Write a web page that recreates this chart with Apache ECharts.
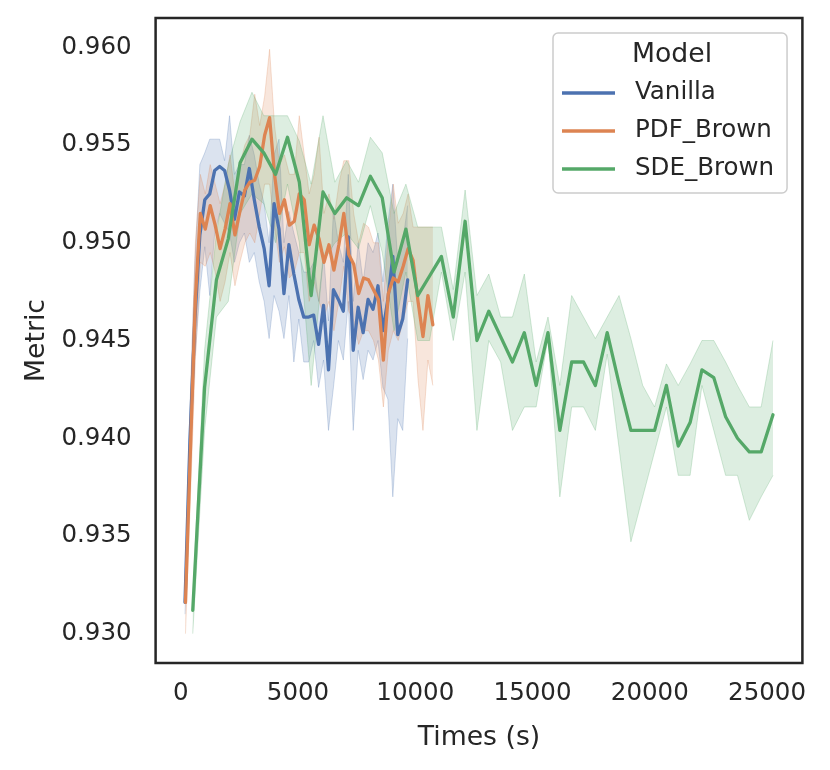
<!DOCTYPE html>
<html>
<head>
<meta charset="utf-8">
<title>Metric vs Times</title>
<script src="https://cdn.jsdelivr.net/npm/echarts@6/dist/echarts.min.js"></script>
<style>
  html, body { margin: 0; padding: 0; background: #ffffff; }
  #chart { width: 830px; height: 770px; }
</style>
</head>
<body>
<div id="chart"></div>
<script>
// times (s) and per-model mean / 95% band
var vanillaTimes = [180, 391, 602, 813, 1024, 1235, 1446, 1657, 1868, 2079, 2290, 2501, 2712, 2923, 3134, 3345,
    3556, 3767, 3978, 4189, 4400, 4611, 4822, 5033, 5244, 5455, 5666, 5877, 6088, 6299, 6510, 6721, 6932,
    7143, 7354, 7565, 7776, 7987, 8198, 8409, 8620, 8831, 9042, 9253, 9464, 9675];
var vanillaMean = [0.9316, 0.9399, 0.9461, 0.9504, 0.9522, 0.9525, 0.9537, 0.9539, 0.9537, 0.9527,
    0.9512, 0.9526, 0.9524, 0.9538, 0.9522, 0.9508, 0.9497, 0.9478, 0.9520, 0.9507,
    0.9474, 0.9499, 0.9484, 0.9471, 0.9462, 0.9462, 0.9463, 0.9448, 0.9468, 0.9435,
    0.9476, 0.9471, 0.9465, 0.9503, 0.9445, 0.9467, 0.9454, 0.9471, 0.9466, 0.9478,
    0.9455, 0.9471, 0.9493, 0.9453, 0.9461, 0.9481];
var vanillaHi = [0.9320, 0.9415, 0.9490, 0.9540, 0.9546, 0.9553, 0.9553, 0.9553, 0.9542, 0.9565,
    0.9535, 0.9540, 0.9540, 0.9555, 0.9545, 0.9530, 0.9520, 0.9500, 0.9545, 0.9553,
    0.9500, 0.9516, 0.9505, 0.9495, 0.9485, 0.9485, 0.9490, 0.9470, 0.9495, 0.9460,
    0.9517, 0.9500, 0.9490, 0.9535, 0.9470, 0.9500, 0.9480, 0.9500, 0.9495, 0.9505,
    0.9480, 0.9510, 0.9530, 0.9490, 0.9500, 0.9519];
var vanillaLo = [0.9310, 0.9385, 0.9440, 0.9475, 0.9498, 0.9473, 0.9505, 0.9515, 0.9510, 0.9505,
    0.9490, 0.9500, 0.9505, 0.9490, 0.9495, 0.9480, 0.9470, 0.9451, 0.9473, 0.9465,
    0.9451, 0.9473, 0.9439, 0.9461, 0.9439, 0.9439, 0.9450, 0.9426, 0.9440, 0.9404,
    0.9426, 0.9450, 0.9440, 0.9470, 0.9404, 0.9445, 0.9430, 0.9445, 0.9440, 0.9450,
    0.9426, 0.9420, 0.9370, 0.9410, 0.9404, 0.9451];

var pdfTimes = [200, 411, 622, 833, 1044, 1255, 1466, 1677, 1888, 2099, 2310, 2521, 2732, 2943, 3154, 3365,
    3576, 3787, 3998, 4209, 4420, 4631, 4842, 5053, 5264, 5475, 5686, 5897, 6108, 6319, 6530, 6741, 6952,
    7163, 7374, 7585, 7796, 8007, 8218, 8429, 8640, 8851, 9062, 9273, 9484, 9695, 9906, 10117, 10328,
    10539, 10750];
var pdfMean = [0.9316, 0.9394, 0.9471, 0.9515, 0.9507, 0.9519, 0.9509, 0.9497, 0.9507, 0.9520,
    0.9504, 0.9516, 0.9527, 0.9531, 0.9532, 0.9539, 0.9555, 0.9564, 0.9535, 0.9515,
    0.9522, 0.9509, 0.9511, 0.9525, 0.9522, 0.9499, 0.9509, 0.9502, 0.9490, 0.9499,
    0.9486, 0.9499, 0.9515, 0.9494, 0.9489, 0.9474, 0.9482, 0.9481, 0.9476, 0.9471,
    0.9440, 0.9474, 0.9482, 0.9480, 0.9488, 0.9497, 0.9491, 0.9470, 0.9452, 0.9473,
    0.9458];
var pdfHi = [0.9325, 0.9420, 0.9500, 0.9535, 0.9525, 0.9540, 0.9530, 0.9520, 0.9530, 0.9545,
    0.9525, 0.9540, 0.9550, 0.9555, 0.9576, 0.9560, 0.9575, 0.9599, 0.9560, 0.9540,
    0.9545, 0.9535, 0.9535, 0.9565, 0.9545, 0.9525, 0.9535, 0.9554, 0.9515, 0.9525,
    0.9512, 0.9530, 0.9542, 0.9542, 0.9515, 0.9500, 0.9510, 0.9508, 0.9500, 0.9500,
    0.9470, 0.9505, 0.9530, 0.9510, 0.9515, 0.9525, 0.9508, 0.9508, 0.9508, 0.9508,
    0.9508];
var pdfLo = [0.9300, 0.9370, 0.9440, 0.9490, 0.9488, 0.9495, 0.9485, 0.9470, 0.9480, 0.9495,
    0.9478, 0.9490, 0.9500, 0.9505, 0.9500, 0.9515, 0.9530, 0.9530, 0.9508, 0.9490,
    0.9498, 0.9482, 0.9485, 0.9495, 0.9495, 0.9470, 0.9480, 0.9470, 0.9462, 0.9470,
    0.9455, 0.9470, 0.9488, 0.9465, 0.9460, 0.9448, 0.9455, 0.9455, 0.9450, 0.9440,
    0.9416, 0.9445, 0.9455, 0.9450, 0.9460, 0.9470, 0.9470, 0.9430, 0.9404, 0.9440,
    0.9427];

var sdeTimes = [510, 1015, 1520, 2025, 2530, 3035, 3540, 4045, 4550, 5055, 5560, 6065, 6570, 7075, 7580,
    8085, 8590, 9095, 9600, 10105, 10610, 11115, 11620, 12125, 12630, 13135, 13640, 14145, 14650, 15155,
    15660, 16165, 16670, 17175, 17680, 18185, 18690, 19195, 19700, 20205, 20710, 21215, 21720, 22225,
    22730, 23235, 23740, 24245, 24750, 25255];
var sdeMean = [0.9312, 0.9426, 0.9481, 0.9502, 0.9541, 0.9553, 0.9546, 0.9535, 0.9554, 0.9531,
    0.9473, 0.9526, 0.9515, 0.9523, 0.9519, 0.9534, 0.9523, 0.9485, 0.9507, 0.9473,
    0.9483, 0.9493, 0.9462, 0.9511, 0.9450, 0.9465, 0.9452, 0.9439, 0.9454, 0.9427,
    0.9454, 0.9404, 0.9439, 0.9439, 0.9427, 0.9454, 0.9428, 0.9404, 0.9404, 0.9404,
    0.9427, 0.9396, 0.9408, 0.9435, 0.9431, 0.9411, 0.9400, 0.9393, 0.9393, 0.9412];
var sdeHi = [0.9318, 0.9445, 0.9505, 0.9540, 0.9562, 0.9577, 0.9565, 0.9565, 0.9565, 0.9552,
    0.9530, 0.9565, 0.9531, 0.9542, 0.9531, 0.9554, 0.9546, 0.9515, 0.9530, 0.9508,
    0.9508, 0.9508, 0.9476, 0.9527, 0.9473, 0.9484, 0.9462, 0.9462, 0.9484, 0.9439,
    0.9462, 0.9427, 0.9473, 0.9462, 0.9451, 0.9462, 0.9473, 0.9451, 0.9427, 0.9416,
    0.9438, 0.9427, 0.9438, 0.9450, 0.9450, 0.9439, 0.9427, 0.9416, 0.9416, 0.9450];
var sdeLo = [0.9300, 0.9404, 0.9462, 0.9470, 0.9515, 0.9525, 0.9520, 0.9500, 0.9530, 0.9500,
    0.9427, 0.9490, 0.9500, 0.9505, 0.9497, 0.9519, 0.9495, 0.9455, 0.9485, 0.9450,
    0.9450, 0.9485, 0.9450, 0.9485, 0.9404, 0.9450, 0.9439, 0.9404, 0.9416, 0.9416,
    0.9451, 0.9370, 0.9416, 0.9416, 0.9404, 0.9443, 0.9395, 0.9347, 0.9370, 0.9393,
    0.9416, 0.9381, 0.9381, 0.9427, 0.9404, 0.9381, 0.9381, 0.9358, 0.9370, 0.9381];

var xTicks = [0, 5000, 10000, 15000, 20000, 25000];
var yTicks = [0.930, 0.935, 0.940, 0.945, 0.950, 0.955, 0.960];

var models = [
    { name: 'Vanilla', color: '#4c72b0', t: vanillaTimes, mean: vanillaMean, hi: vanillaHi, lo: vanillaLo },
    { name: 'PDF_Brown', color: '#dd8452', t: pdfTimes, mean: pdfMean, hi: pdfHi, lo: pdfLo },
    { name: 'SDE_Brown', color: '#55a868', t: sdeTimes, mean: sdeMean, hi: sdeHi, lo: sdeLo }
];

var FONT = 'DejaVu Sans';
var INK = '#262626';

function pairs(xs, ys) {
    var out = [];
    for (var i = 0; i < xs.length; i++) out.push([xs[i], ys[i]]);
    return out;
}

// one custom series per model: the whole band is one polygon (upper edge, then lower edge back)
function bandSeries(m) {
    var rows = [];
    for (var i = 0; i < m.t.length; i++) rows.push([m.t[i], m.lo[i], m.hi[i]]);
    return {
        name: m.name + ' band',
        type: 'custom',
        silent: true,
        z: 1,
        clip: true,
        encode: { x: 0, y: [1, 2] },
        data: rows,
        renderItem: function (params, api) {
            if (params.dataIndex !== 0) return null;
            var upper = [], lower = [];
            for (var k = 0; k < rows.length; k++) {
                upper.push(api.coord([rows[k][0], rows[k][2]]));
                lower.push(api.coord([rows[k][0], rows[k][1]]));
            }
            var ring = upper.concat(lower.slice().reverse());
            return {
                type: 'group',
                children: [{
                    type: 'polygon',
                    shape: { points: ring },
                    style: { fill: m.color, opacity: 0.2 }
                }, {
                    type: 'polyline',
                    shape: { points: upper },
                    style: { stroke: m.color, fill: null, lineWidth: 1, opacity: 0.25 }
                }, {
                    type: 'polyline',
                    shape: { points: lower },
                    style: { stroke: m.color, fill: null, lineWidth: 1, opacity: 0.25 }
                }]
            };
        }
    };
}

var series = [];
models.forEach(function (m) { series.push(bandSeries(m)); });
models.forEach(function (m) {
    series.push({
        name: m.name,
        type: 'line',
        data: pairs(m.t, m.mean),
        showSymbol: false,
        z: 2,
        color: m.color,
        lineStyle: { color: m.color, width: 3.3, join: 'round', cap: 'round' }
    });
});

var dom = document.getElementById('chart');
var myChart = echarts.init(dom, null, { renderer: 'canvas' });
var option = {
    animation: false,
    backgroundColor: '#ffffff',
    textStyle: { fontFamily: FONT, color: INK },
    grid: {
        left: 155.6,
        right: 27.6,
        top: 18,
        bottom: 107,
        show: true,
        borderColor: INK,
        borderWidth: 2.5,
        backgroundColor: 'transparent'
    },
    xAxis: {
        type: 'value',
        min: -1074,
        max: 26509,
        name: 'Times (s)',
        nameLocation: 'middle',
        nameGap: 62,
        nameTextStyle: { fontFamily: FONT, fontSize: 26.7, color: INK },
        axisLine: { show: false },
        axisTick: { show: false },
        splitLine: { show: false },
        axisLabel: {
            customValues: xTicks,
            margin: 18,
            fontFamily: FONT,
            fontSize: 24.5,
            color: INK,
            formatter: function (v) { return String(v); }
        }
    },
    yAxis: {
        type: 'value',
        min: 0.9285,
        max: 0.9615,
        name: 'Metric',
        nameLocation: 'middle',
        nameRotate: 90,
        nameGap: 104,
        nameTextStyle: { fontFamily: FONT, fontSize: 26.7, color: INK },
        axisLine: { show: false },
        axisTick: { show: false },
        splitLine: { show: false },
        axisLabel: {
            customValues: yTicks,
            margin: 24,
            fontFamily: FONT,
            fontSize: 24.5,
            color: INK,
            formatter: function (v) { return v.toFixed(3); }
        }
    },
    legend: {
        data: ['Vanilla', 'PDF_Brown', 'SDE_Brown'],
        orient: 'vertical',
        left: 553,
        top: 33,
        padding: [47, 13, 11, 9],
        itemGap: 12,
        itemWidth: 53,
        itemHeight: 3.5,
        icon: 'rect',
        backgroundColor: 'rgba(255,255,255,0.8)',
        borderColor: '#cccccc',
        borderWidth: 1.5,
        borderRadius: 5,
        selectedMode: false,
        textStyle: {
            fontFamily: FONT,
            fontSize: 24.5,
            lineHeight: 26,
            color: INK,
            padding: [0, 0, 0, 15]
        }
    },
    graphic: [{
        type: 'text',
        z: 100,
        style: {
            text: 'Model',
            x: 672,
            y: 55,
            align: 'center',
            verticalAlign: 'middle',
            fontFamily: FONT,
            fontSize: 26.7,
            fill: INK
        }
    }],
    series: series
};
if (option && typeof option === "object") {
    myChart.setOption(option, true);
}
</script>
</body>
</html>
